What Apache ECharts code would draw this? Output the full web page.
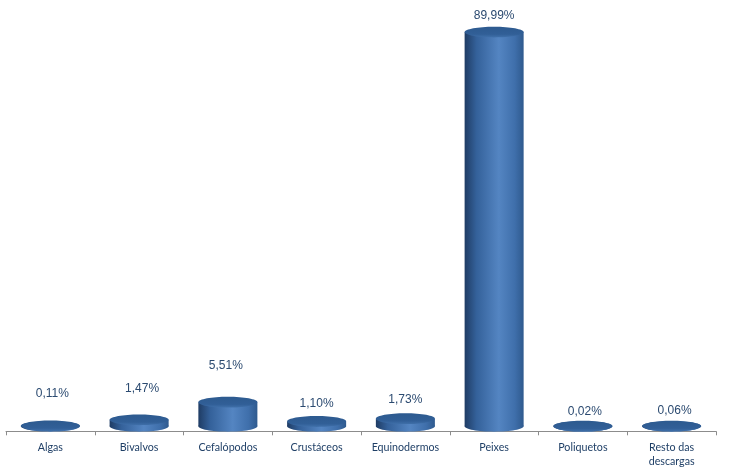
<!DOCTYPE html>
<html>
<head>
<meta charset="utf-8">
<style>
  html, body { margin: 0; padding: 0; background: #fff; }
  #chart { width: 731px; height: 471px; }
</style>
<script src="https://cdn.jsdelivr.net/npm/echarts@6/dist/echarts.min.js"></script>
</head>
<body>
<div id="chart"></div>
<script>
const categories = ['Algas', 'Bivalvos', 'Cefalópodos', 'Crustáceos', 'Equinodermos', 'Peixes', 'Poliquetos', 'Resto das\ndescargas']
const values = [0.11, 1.47, 5.51, 1.10, 1.73, 89.99, 0.02, 0.06]
const valueLabels = ['0,11%', '1,47%', '5,51%', '1,10%', '1,73%', '89,99%', '0,02%', '0,06%']

// the labels were placed by hand in the original, so each has its own nudge (px from the cap)
const labelLift = [32, 31, 36, 18, 19, 16, 15, 15]
const labelShift = [2, 3, -2, 0, 0, 0, 2, 3]

const bodyFill = new echarts.graphic.LinearGradient(0, 0, 1, 0, [
  { offset: 0, color: '#1f3c64' },
  { offset: 0.2, color: '#34619a' },
  { offset: 0.58, color: '#5485c2' },
  { offset: 0.85, color: '#3f6fab' },
  { offset: 1, color: '#2f5a8e' }
])
const capFill = new echarts.graphic.LinearGradient(0, 0, 0, 1, [
  { offset: 0, color: '#2d5a8f' },
  { offset: 0.7, color: '#315f97' },
  { offset: 1, color: '#4070aa' }
])

function renderCylinder(params, api) {
  const i = api.value(0)
  const base = api.coord([i, 0])
  const top = api.coord([i, api.value(1)])
  const w = api.size([1, 0])[0] * 0.665
  const rx = w / 2, ry = 5.4
  return {
    type: 'group',
    children: [
      { type: 'ellipse', shape: { cx: base[0], cy: base[1], rx, ry }, style: { fill: bodyFill } },
      { type: 'rect', shape: { x: base[0] - rx, y: top[1], width: w, height: base[1] - top[1] }, style: { fill: bodyFill } },
      { type: 'ellipse', shape: { cx: top[0], cy: top[1], rx, ry }, style: { fill: capFill } },
      {
        type: 'text',
        style: {
          x: top[0] + labelShift[i], y: top[1] - labelLift[i],
          text: valueLabels[i],
          align: 'center', verticalAlign: 'middle',
          fill: '#2b4a70',
          font: '12px "Liberation Sans"'
        }
      }
    ]
  }
}

const chart = echarts.init(document.getElementById('chart'))
chart.setOption({
  animation: false,
  grid: { left: 6, right: 15, top: 32, bottom: 44.7 },
  xAxis: {
    type: 'category',
    data: categories,
    offset: 5,
    axisLine: { onZero: false, lineStyle: { color: '#8c8c8c', width: 1 } },
    axisTick: { show: true, alignWithLabel: false, length: 4, lineStyle: { color: '#8c8c8c' } },
    axisLabel: { interval: 0, margin: 9, color: '#1f3f66', fontFamily: 'Lato', fontSize: 10.7, lineHeight: 14 }
  },
  yAxis: { type: 'value', min: 0, max: 90, show: false },
  series: [{
    type: 'custom',
    clip: false,
    renderItem: renderCylinder,
    encode: { x: 0, y: 1 },
    data: values.map((v, i) => [i, v])
  }]
})
</script>
</body>
</html>
